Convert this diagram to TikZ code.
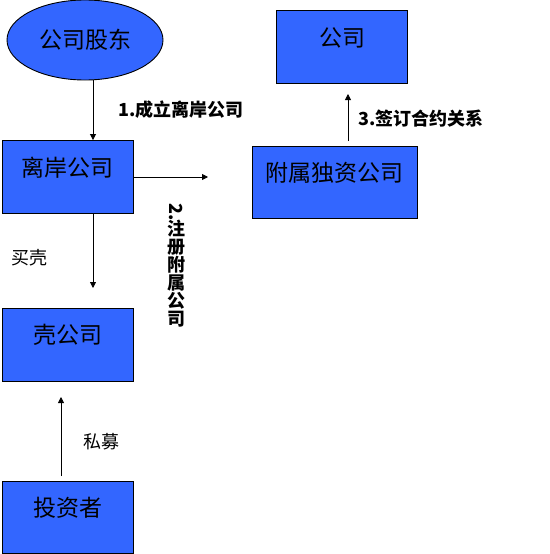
\documentclass[tikz,border=0pt]{standalone}
\usepackage{fontspec}
\setmainfont{Noto Sans CJK SC}
\usetikzlibrary{shapes.geometric,arrows.meta,calc}
\definecolor{boxblue}{RGB}{51,102,255}
\tikzset{
  box/.style={draw=black, line width=0.9pt, fill=boxblue, rectangle, inner sep=0pt,
    minimum width=131pt, minimum height=73pt, font=\fontsize{23}{25}\selectfont,
    text height=35.5pt, text depth=37.5pt},
  arr/.style={draw=black, line width=0.8pt, -{Triangle[width=6pt,length=6pt]}},
  lab/.style={font=\fontsize{18}{20}\selectfont, inner sep=0pt},
  blab/.style={font=\bfseries\fontsize{18}{20}\selectfont, inner sep=0pt},
}
\begin{document}
\begin{tikzpicture}[x=1pt,y=-1pt]
\useasboundingbox (0,0) rectangle (549,554);
\node[draw=black, line width=0.9pt, fill=boxblue, ellipse, inner sep=0pt,
  minimum width=156pt, minimum height=80pt, font=\fontsize{23}{25}\selectfont] (sh) at (85,40) {公司股东};
\node[box] (off) at (67.5,177) {离岸公司};
\node[box] (com) at (342,47) {公司};
\node[box, minimum width=165pt, minimum height=72pt, text depth=36.5pt] (sub) at (334.5,182) {附属独资公司};
\node[box] (shell) at (67.5,344.5) {壳公司};
\node[box, minimum height=72pt, text depth=36.5pt] (inv) at (67.5,517) {投资者};
% connectors
\draw[arr] ([xshift=8pt]sh.south) -- ([xshift=8pt]sh.south |- off.north);
\coordinate (hend) at (208,177);
\draw[arr] (off.east) -- (hend);
\coordinate (s3) at (348,141);
\coordinate (e3) at (348,94);
\draw[arr] (s3) -- (e3);
\coordinate (s4) at (93,213);
\coordinate (e4) at (93,288);
\draw[arr] (s4) -- (e4);
\coordinate (s5) at (61,476);
\coordinate (e5) at (61,397);
\draw[arr] (s5) -- (e5);
% labels
\node[blab, anchor=west] (l1) at (118,110) {1.成立离岸公司};
\node[blab, anchor=west] (l3) at (358,119) {3.签订合约关系};
\node[lab, anchor=west] (l4) at (11,258) {买壳};
\node[lab, anchor=west] (l5) at (83,442) {私募};
\node[blab, anchor=north, align=center, font=\bfseries\fontsize{18}{18}\selectfont] (l2) at (176,203)
  {\rotatebox{-90}{2.}\\[-1pt]注\\册\\附\\属\\公\\司};
\end{tikzpicture}
\end{document}
